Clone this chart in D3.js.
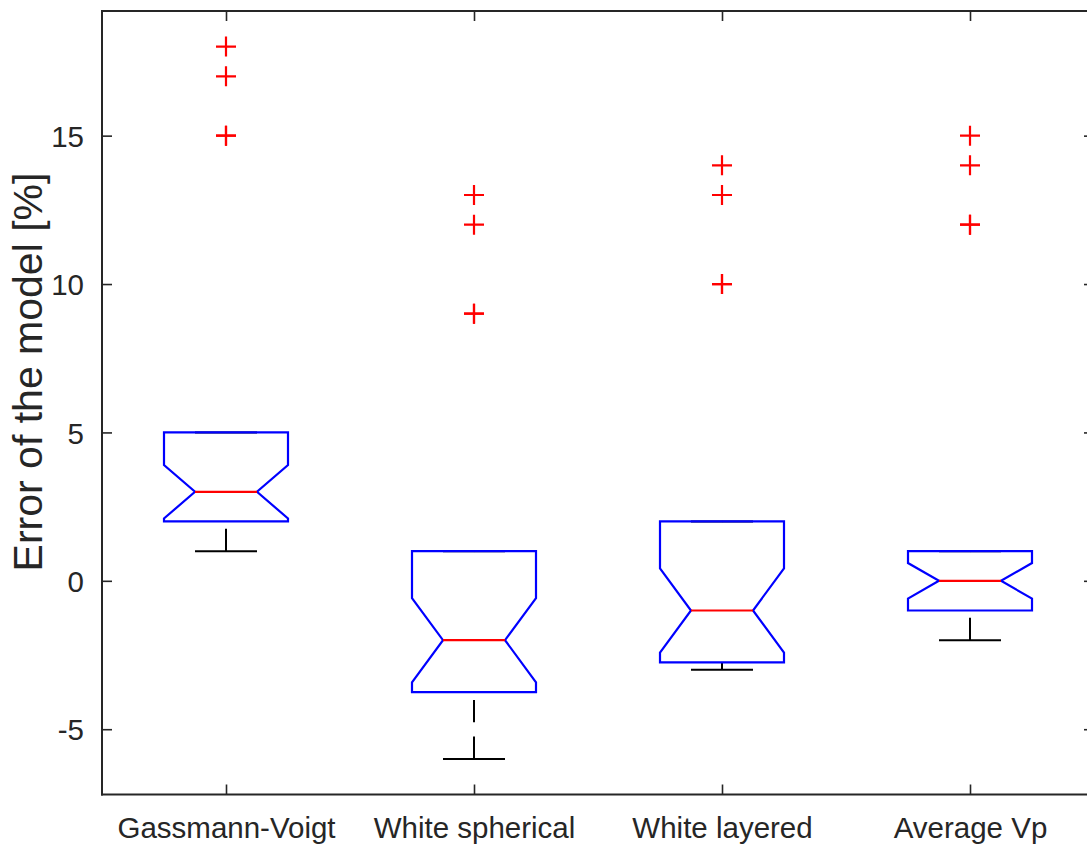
<!DOCTYPE html>
<html>
<head>
<meta charset="utf-8">
<script src="https://cdn.jsdelivr.net/npm/d3@7/dist/d3.min.js"></script>
<style>
  html, body { margin: 0; padding: 0; background: #ffffff; }
  svg { display: block; }
  text { font-family: "Liberation Sans", Arial, Helvetica, sans-serif; fill: #262626; }
</style>
</head>
<body>
<svg id="chart" width="1087" height="848"></svg>
<script>
// Model error statistics per rock-physics model (percent)
const categories   = ["Gassmann-Voigt", "White spherical", "White layered", "Average Vp"];
const q1Values     = [2, -3.75, -2.75, -1];
const medianValues = [3, -2, -1, 0];
const q3Values     = [5, 1, 2, 1];
const whiskerLow   = [1, -6, -3, -2];
const whiskerHigh  = [5, 1, 2, 1];
const notchLow     = [2.10, -3.42, -2.42, -0.60];
const notchHigh    = [3.90, -0.58, 0.42, 0.60];
const outliers     = [
  [18, 17, 15, 15],
  [13, 12, 9, 9],
  [14, 13, 10, 10],
  [15, 14, 12, 12]
];
const yTickValues  = [-5, 0, 5, 10, 15];

const svg = d3.select("#chart");
const plot = { left: 102, right: 1094, top: 11, bottom: 794.5 };

const x = d3.scaleLinear().domain([0.5, categories.length + 0.5]).range([plot.left, plot.right]);
const y = d3.scaleLinear().domain([-7.2, 19.2]).range([plot.bottom, plot.top]);

const axisColor = "#262626";
const tickLen = 10;
const boxHalf = (x(1.25) - x(1));      // box width of 0.5 category units
const notchHalf = boxHalf / 2;

// Axes with inward ticks on all four sides
const yLeft = svg.append("g")
  .attr("transform", `translate(${plot.left},0)`)
  .call(d3.axisLeft(y).tickValues(yTickValues).tickSizeInner(-tickLen).tickSizeOuter(0).tickPadding(18)
    .tickFormat(d => String(d)));
const yRight = svg.append("g")
  .attr("transform", `translate(${plot.right},0)`)
  .call(d3.axisRight(y).tickValues(yTickValues).tickSizeInner(-tickLen).tickSizeOuter(0).tickFormat(""));
const xBottom = svg.append("g")
  .attr("transform", `translate(0,${plot.bottom})`)
  .call(d3.axisBottom(x).tickValues(d3.range(1, categories.length + 1)).tickSizeInner(-tickLen).tickSizeOuter(0)
    .tickFormat((d, i) => categories[i]).tickPadding(23));
const xTop = svg.append("g")
  .attr("transform", `translate(0,${plot.top})`)
  .call(d3.axisTop(x).tickValues(d3.range(1, categories.length + 1)).tickSizeInner(-tickLen).tickSizeOuter(0).tickFormat(""));

[yLeft, yRight, xBottom, xTop].forEach(g => {
  g.select(".domain").attr("stroke", axisColor).attr("stroke-width", 2);
  g.selectAll(".tick line").attr("stroke", axisColor).attr("stroke-width", 1.6);
  g.selectAll(".tick text").attr("fill", axisColor).style("font-size", "29.5px");
});
// Frame domain lines extended to the full box
yLeft.select(".domain").attr("d", `M0,${plot.top - 1}V${plot.bottom + 1}`);
yRight.select(".domain").attr("d", `M0,${plot.top - 1}V${plot.bottom + 1}`);
xBottom.select(".domain").attr("d", `M${plot.left - 1},0H${plot.right + 1}`);
xTop.select(".domain").attr("d", `M${plot.left - 1},0H${plot.right + 1}`);
yLeft.selectAll(".tick text").attr("dy", "0.36em");
xBottom.selectAll(".tick text").attr("dy", "0.71em");

// Y axis title
svg.append("text")
  .attr("transform", `translate(42,${372}) rotate(-90)`)
  .attr("text-anchor", "middle")
  .style("font-size", "41px")
  .text("Error of the model [%]");

const groups = svg.append("g").selectAll("g.box")
  .data(categories.map((c, i) => ({
    c, pos: i + 1, q1: q1Values[i], med: medianValues[i], q3: q3Values[i],
    lo: whiskerLow[i], hi: whiskerHigh[i], nLo: notchLow[i], nHi: notchHigh[i], out: outliers[i]
  })))
  .join("g").attr("class", "box");

// Whiskers: dashed lines drawn from the adjacent value toward the box
groups.append("path")
  .attr("d", d => `M${x(d.pos)},${y(d.lo)}V${y(d.q1)}`)
  .attr("stroke", "#000").attr("stroke-width", 2).attr("fill", "none")
  .attr("stroke-dasharray", "22.3 14.4");
groups.append("path")
  .attr("d", d => `M${x(d.pos)},${y(d.hi)}V${y(d.q3)}`)
  .attr("stroke", "#000").attr("stroke-width", 2).attr("fill", "none")
  .attr("stroke-dasharray", "22.3 14.4");

// Whisker caps
groups.append("line")
  .attr("x1", d => x(d.pos) - notchHalf).attr("x2", d => x(d.pos) + notchHalf)
  .attr("y1", d => y(d.lo)).attr("y2", d => y(d.lo))
  .attr("stroke", "#000").attr("stroke-width", 2);
groups.append("line")
  .attr("x1", d => x(d.pos) - notchHalf).attr("x2", d => x(d.pos) + notchHalf)
  .attr("y1", d => y(d.hi)).attr("y2", d => y(d.hi))
  .attr("stroke", "#000").attr("stroke-width", 2);

// Notched boxes
groups.append("path")
  .attr("d", d => {
    const cx = x(d.pos);
    return `M${cx - boxHalf},${y(d.q3)}H${cx + boxHalf}V${y(d.nHi)}` +
      `L${cx + notchHalf},${y(d.med)}L${cx + boxHalf},${y(d.nLo)}V${y(d.q1)}` +
      `H${cx - boxHalf}V${y(d.nLo)}L${cx - notchHalf},${y(d.med)}L${cx - boxHalf},${y(d.nHi)}Z`;
  })
  .attr("fill", "none").attr("stroke", "#0000ff").attr("stroke-width", 2.2)
  .attr("stroke-linejoin", "miter");

// Medians
groups.append("line")
  .attr("x1", d => x(d.pos) - notchHalf).attr("x2", d => x(d.pos) + notchHalf)
  .attr("y1", d => y(d.med)).attr("y2", d => y(d.med))
  .attr("stroke", "#ff0000").attr("stroke-width", 2.2);

// Outliers as red plus markers
const plusHalf = 10;
groups.selectAll("path.outlier")
  .data(d => d.out.map(v => ({ pos: d.pos, v })))
  .join("path").attr("class", "outlier")
  .attr("d", d => {
    const cx = x(d.pos), cy = y(d.v);
    return `M${cx - plusHalf},${cy}H${cx + plusHalf}M${cx},${cy - plusHalf}V${cy + plusHalf}`;
  })
  .attr("stroke", "#ff0000").attr("stroke-width", 2.2).attr("fill", "none");
</script>
</body>
</html>
